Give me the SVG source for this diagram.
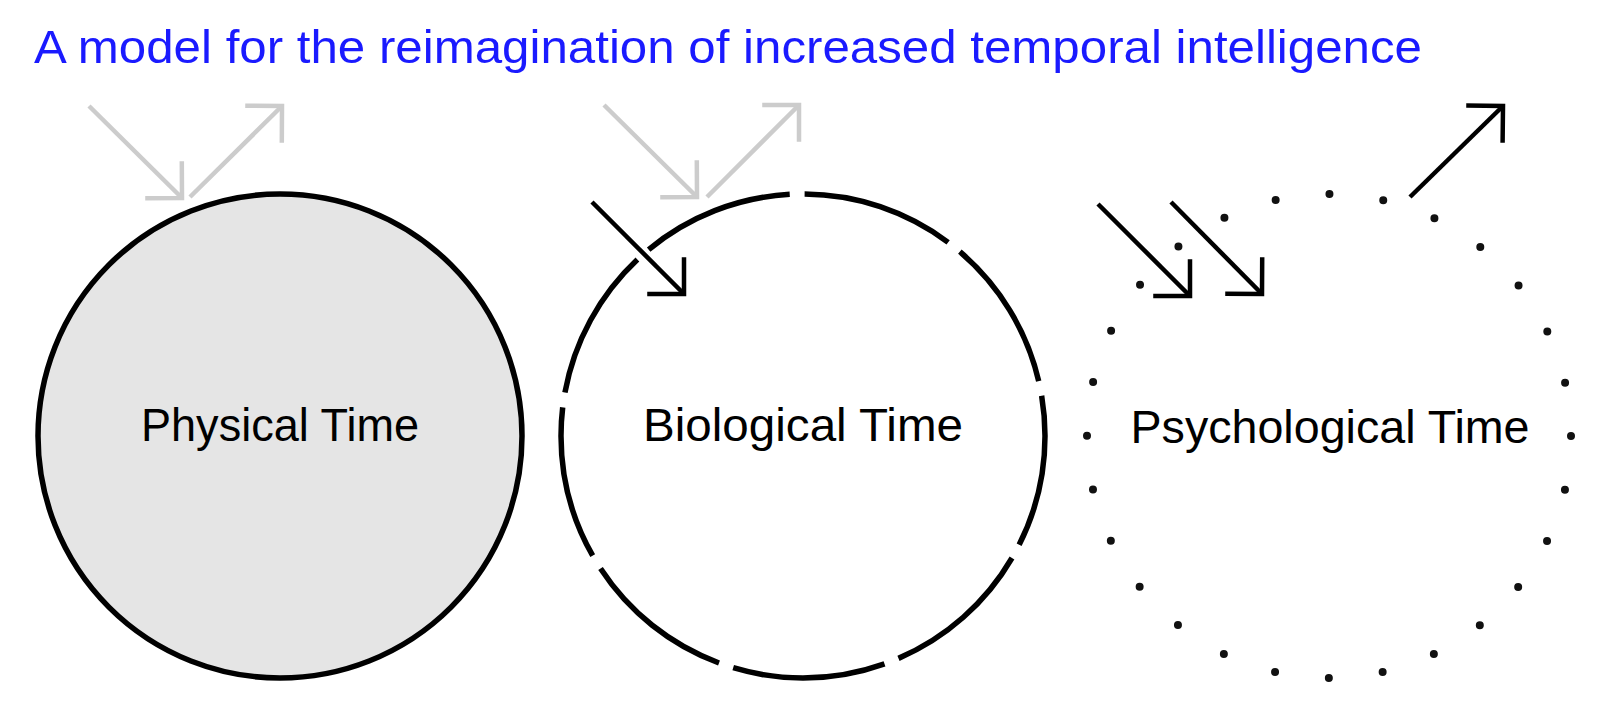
<svg xmlns="http://www.w3.org/2000/svg" width="1600" height="713" viewBox="0 0 1600 713">
  <style>
    .title { font-family: "Liberation Sans", Arial, sans-serif; font-size: 47px; fill: #1a1aff; }
    .label { font-family: "Liberation Sans", Arial, sans-serif; font-size: 46px; fill: #000000; text-anchor: middle; }
    .ring { fill: none; stroke: #000000; stroke-width: 5.5; }
    .gray { stroke: #cccccc; stroke-width: 4.5; fill: none; marker-end: url(#headGray); }
    .black { stroke: #000000; stroke-width: 4.5; fill: none; marker-end: url(#headBlack); }
  </style>
  <defs>
    <marker id="headGray" markerUnits="userSpaceOnUse" orient="auto" markerWidth="80" markerHeight="80" refX="0" refY="0" viewBox="-40 -40 80 80" overflow="visible">
      <path d="M -26,-26 L 0,0 L -26,26" fill="none" stroke="#cccccc" stroke-width="4.5" stroke-linejoin="miter"/>
    </marker>
    <marker id="headBlack" markerUnits="userSpaceOnUse" orient="auto" markerWidth="80" markerHeight="80" refX="0" refY="0" viewBox="-40 -40 80 80" overflow="visible">
      <path d="M -26,-26 L 0,0 L -26,26" fill="none" stroke="#000000" stroke-width="4.5" stroke-linejoin="miter"/>
    </marker>
  </defs>
  <rect width="1600" height="713" fill="#ffffff"/>

  <text class="title" x="34" y="63" textLength="1388" lengthAdjust="spacingAndGlyphs">A model for the reimagination of increased temporal intelligence</text>

  <g id="physical-time">
    <circle cx="280" cy="436" r="242" fill="#e5e5e5" stroke="#000000" stroke-width="5.5"/>
    <text class="label" x="280" y="441" textLength="278" lengthAdjust="spacingAndGlyphs">Physical Time</text>
  </g>

  <g id="biological-time">
    <circle class="ring" cx="803" cy="436" r="242" stroke-dasharray="153.95 15" stroke-dashoffset="41.08"/>
    <text class="label" x="803" y="441" textLength="320" lengthAdjust="spacingAndGlyphs">Biological Time</text>
  </g>

  <g id="psychological-time">
    <circle cx="1329" cy="436" r="242" fill="none" stroke="#111111" stroke-width="8" stroke-linecap="round" stroke-dasharray="0 54.3047"/>
    <text class="label" x="1330" y="443" textLength="399" lengthAdjust="spacingAndGlyphs">Psychological Time</text>
  </g>

  <g id="connectors">
    <line class="gray" x1="89" y1="106" x2="182" y2="198"/>
    <line class="gray" x1="190" y1="197" x2="282" y2="106"/>
    <line class="gray" x1="604" y1="105" x2="697" y2="197"/>
    <line class="gray" x1="707" y1="197" x2="799" y2="105"/>
    <line class="black" x1="592" y1="202" x2="684" y2="294"/>
    <line class="black" x1="1098" y1="204" x2="1190" y2="296"/>
    <line class="black" x1="1171" y1="202" x2="1262" y2="294"/>
    <line class="black" x1="1410" y1="197" x2="1503" y2="106"/>
  </g>
</svg>
